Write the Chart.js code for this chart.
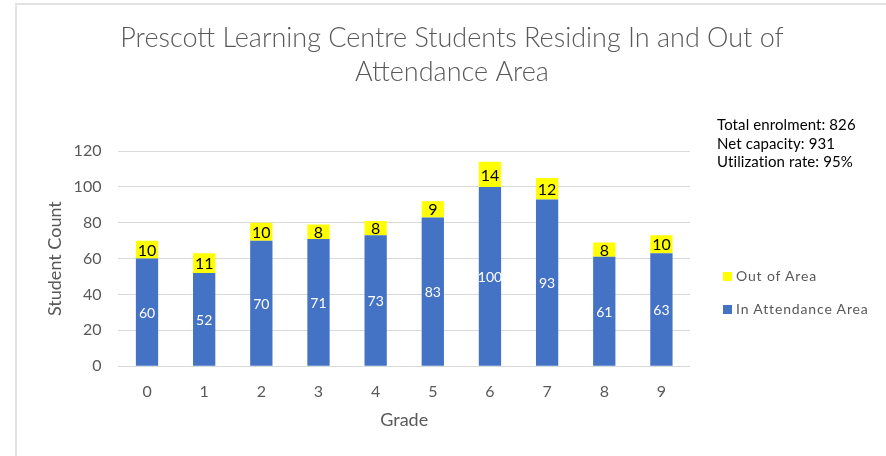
<!DOCTYPE html>
<html>
<head>
<meta charset="utf-8">
<script src="https://cdn.jsdelivr.net/npm/chart.js@4.4.0/dist/chart.umd.min.js"></script>
<style>
  body { margin: 0; background: #fff; font-family: Lato, sans-serif; }
  #wrap { position: relative; width: 886px; height: 456px; overflow: hidden; }
  #frame { position: absolute; left: 15px; top: 3px; right: -4px; bottom: -4px;
           border-left: 2px solid #e2e2e2; border-top: 2px solid #e2e2e2; }
  #chart { position: absolute; left: 0; top: 0; }
  #info { position: absolute; left: 717px; top: 115px; font-size: 15px; line-height: 18.5px; color: #000; letter-spacing: 0.1px; }
  #legend { position: absolute; left: 723px; top: 266px; font-size: 14px; color: #595959; letter-spacing: 0.85px; }
  #legend div { height: 33px; line-height: 20px; }
  #legend span { display: inline-block; width: 9px; height: 9px; margin-right: 4px; vertical-align: 0px; }
</style>
</head>
<body>
<div id="wrap">
  <div id="frame"></div>
  <canvas id="chart" width="886" height="456"></canvas>
  <div id="info"></div>
  <div id="legend"></div>
</div>
<script>
const grades = ['0', '1', '2', '3', '4', '5', '6', '7', '8', '9'];
const inArea = [60, 52, 70, 71, 73, 83, 100, 93, 61, 63];
const outArea = [10, 11, 10, 8, 8, 9, 14, 12, 8, 10];
const infoLines = ['Total enrolment: 826', 'Net capacity: 931', 'Utilization rate: 95%'];
const titleLines = ['Prescott Learning Centre Students Residing In and Out of', 'Attendance Area'];

// value labels in the middle of each bar segment
const barLabels = {
  id: 'barLabels',
  afterDatasetsDraw(chart) {
    const ctx = chart.ctx;
    chart.data.datasets.forEach((ds, i) => {
      const meta = chart.getDatasetMeta(i);
      meta.data.forEach((bar, j) => {
        const p = bar.getProps(['x', 'y', 'base'], true);
        ctx.save();
        ctx.fillStyle = ds.labelColor;
        ctx.font = ds.labelFont;
        ctx.textAlign = 'center';
        ctx.textBaseline = 'middle';
        ctx.fillText(ds.data[j], p.x, (p.y + p.base) / 2 + 1);
        ctx.restore();
      });
    });
  }
};

const datasets = [
  {
    label: 'In Attendance Area',
    data: inArea,
    backgroundColor: '#4472C4',
    labelColor: '#ffffff',
    labelFont: '14px Lato'
  },
  {
    label: 'Out of Area',
    data: outArea,
    backgroundColor: '#FFFF00',
    labelColor: '#000000',
    labelFont: '16px Lato'
  }
];

const ctx = document.getElementById('chart').getContext('2d');
const chart = new Chart(ctx, {
  type: 'bar',
  data: { labels: grades, datasets: datasets },
  options: {
    responsive: false,
    animation: false,
    barPercentage: 0.39,
    categoryPercentage: 1,
    layout: { padding: { left: 44, right: 26, top: 3, bottom: 25 } },
    plugins: {
      legend: { display: false },
      tooltip: { enabled: false },
      title: {
        display: true,
        text: titleLines,
        color: '#595959',
        font: { family: 'Lato', size: 27, weight: '300', lineHeight: 1.26 },
        padding: { top: 18, bottom: 62 }
      }
    },
    scales: {
      x: {
        stacked: true,
        grid: { display: false, drawTicks: false },
        border: { display: false },
        ticks: { color: '#595959', font: { family: 'Lato', size: 16 }, padding: 16 },
        title: { display: true, text: 'Grade', color: '#595959',
                 font: { family: 'Lato', size: 18 }, padding: { top: -8, bottom: 0 } }
      },
      y: {
        stacked: true,
        min: 0,
        max: 120,
        ticks: { stepSize: 20, color: '#595959', font: { family: 'Lato', size: 16 }, padding: 17 },
        grid: { color: '#d9d9d9', drawTicks: false },
        border: { display: false },
        title: { display: true, text: 'Student Count', color: '#595959',
                 font: { family: 'Lato', size: 18 }, padding: { top: 0, bottom: -9 } }
      },
      // empty right axis that keeps room for the notes and legend
      side: {
        type: 'linear',
        position: 'right',
        grid: { display: false, drawTicks: false },
        border: { display: false },
        ticks: { display: false },
        afterFit(scale) { scale.width = 170; }
      }
    }
  },
  plugins: [barLabels]
});

document.getElementById('info').innerHTML = infoLines.map(t => '<div>' + t + '</div>').join('');
document.getElementById('legend').innerHTML = datasets.slice().reverse()
  .map(ds => '<div><span style="background:' + ds.backgroundColor + '"></span>' + ds.label + '</div>').join('');
</script>
</body>
</html>
